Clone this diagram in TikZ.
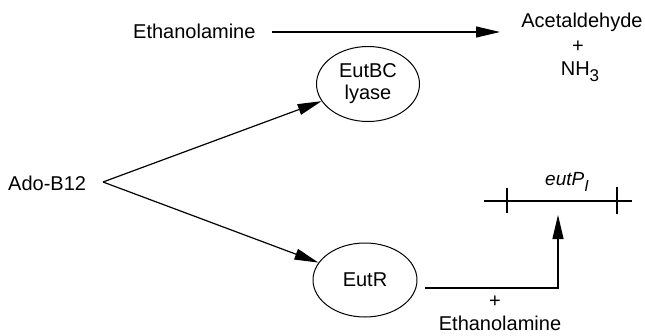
\documentclass[tikz,border=0pt]{standalone}
\usepackage{fontspec}
\setmainfont{Liberation Sans}
\usetikzlibrary{arrows.meta,shapes.geometric}
\begin{document}
\begin{tikzpicture}[x=1pt,y=-1pt,
  lbl/.style={font=\fontsize{20}{22}\selectfont, inner sep=0pt},
  oval/.style={draw, ellipse, line width=1pt, inner sep=0pt, align=center,
    font=\fontsize{20}{22}\selectfont},
  conn/.style={line width=1.2pt},
  arr/.style={conn, -{Triangle[length=24pt,width=11pt]}}]
\useasboundingbox (0,0) rectangle (645,335);
% texts
\node[lbl, anchor=base west] (eth1) at (133,38) {Ethanolamine};
\node[lbl, anchor=base] (acet) at (582,27) {Acetaldehyde};
\node[lbl, anchor=center] (plus1) at (578,47) {+};
\node[lbl, anchor=base] (nh3) at (580,75) {NH\raisebox{-6pt}{\fontsize{17}{17}\selectfont 3}};
\node[lbl, anchor=base west] (ado) at (8,190) {Ado-B12};
\node[lbl, anchor=center] (plus2) at (495,302) {+};
\node[lbl, anchor=base] (eth2) at (500,330) {Ethanolamine};
% ellipses
\node[oval, minimum width=103pt, minimum height=75pt] (eutbc) at (368,84) {EutBC\\lyase};
\node[oval, minimum width=104pt, minimum height=74pt] (eutr) at (365,280) {EutR};
% coordinates
\coordinate (fork) at (103,182);
\coordinate (c1) at (425,288);
\coordinate (prom) at (558,201);
\coordinate (gs) at (484,201);
\coordinate (ge) at (632,201);
\coordinate (t1) at (507,201);
\coordinate (t2) at (617,201);
% gene
\draw[conn] (gs) -- (ge);
\draw[conn] ([yshift=-12pt]t1) -- ([yshift=13pt]t1);
\draw[conn] ([yshift=-13pt]t2) -- ([yshift=14pt]t2);
\node[font=\fontsize{19}{20}\selectfont\itshape, inner sep=0pt, anchor=base] (eutp) at (567,185) {eutP\raisebox{-6pt}{\fontsize{16}{16}\selectfont I}};
% connectors
\draw[arr] (272,32) coordinate (a0) -- (500,32) coordinate (a1);
\draw[arr] (fork) -- (eutbc);
\draw[arr] (fork) -- (eutr);
\draw[arr, shorten >=14pt] (c1) -| (prom);
\end{tikzpicture}
\end{document}
